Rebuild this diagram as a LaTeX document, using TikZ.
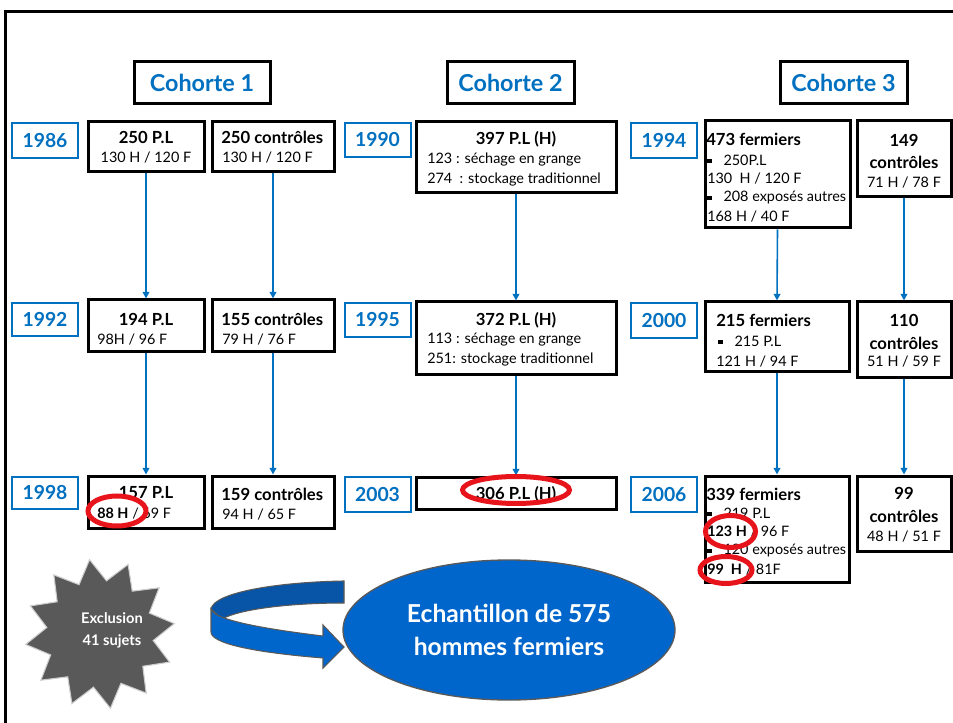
\documentclass[tikz,border=0pt]{standalone}
\usepackage{fontspec}
\setmainfont{Lato}
\usetikzlibrary{arrows.meta,shapes.geometric}
\definecolor{blueA}{RGB}{0,112,192}
\definecolor{blueB}{RGB}{0,102,204}
\definecolor{blueC}{RGB}{8,84,166}
\definecolor{redc}{RGB}{232,20,27}
\definecolor{starg}{RGB}{89,89,89}
\newcommand\HdF{\fontsize{12.5}{14}\selectfont\bfseries}
\newcommand\RgF{\fontsize{10.8}{12}\selectfont}
\newcommand\Bul{\rule[1.5pt]{3.2pt}{3.2pt}\hspace{9pt}}
\newcommand\BoxAt[5]{\node[box, minimum width=#4*0.75pt, minimum height=#5*0.75pt] (#1) at (#2,#3) {};}
\newcommand\YearAt[4]{\node[yr, minimum width=66*0.75pt, minimum height=#4*0.75pt] (#1) at (#2,#3) {#1};}
\begin{document}
\begin{tikzpicture}[x=0.75pt,y=-0.75pt,
  box/.style={draw=black, line width=2.25pt, inner sep=0pt, fill=white},
  yr/.style={draw=blueA, line width=1.5pt, text=blueA, font=\fontsize{14.5}{16}\selectfont\bfseries, inner sep=0pt},
  coh/.style={draw=black, line width=2.25pt, text=blueA, font=\fontsize{17.5}{20}\selectfont\bfseries, inner sep=0pt},
  hd/.style={font=\HdF, inner sep=0pt},
  rg/.style={font=\RgF, inner sep=0pt},
  flow/.style={draw=blueA, line width=1.2pt, -{Triangle[length=5pt,width=5pt]}},
  redring/.style={draw=redc, line width=3.75pt, ellipse, inner sep=0pt}]
\useasboundingbox (0,0) rectangle (953,723);
\fill[white] (0,0) rectangle (953,723);
\draw[line width=2.25pt] (5,725) -- (5,12) -- (955,12);

% cohort headers
\node[coh, minimum width=136*0.75pt, minimum height=42*0.75pt] (coh1) at (202,83) {Cohorte 1};
\node[coh, minimum width=127*0.75pt, minimum height=42*0.75pt] (coh2) at (510.5,83) {Cohorte 2};
\node[coh, minimum width=127*0.75pt, minimum height=42*0.75pt] (coh3) at (843.5,83) {Cohorte 3};

% years
\YearAt{1986}{45}{140.5}{35}
\YearAt{1992}{45}{319.5}{33}
\YearAt{1998}{45}{493}{32}
\YearAt{1990}{377.5}{140}{34}
\YearAt{1995}{377.5}{320}{34}
\YearAt{2003}{377.5}{494.5}{35}
\YearAt{1994}{664}{140.5}{35}
\YearAt{2000}{664}{320.5}{35}
\YearAt{2006}{664}{494.5}{35}

% boxes
\BoxAt{a1}{146}{147}{116}{50}
\BoxAt{a2}{146}{326}{116}{52}
\BoxAt{a3}{146}{502}{116}{52}
\BoxAt{c1}{273}{147}{122}{50}
\BoxAt{c2}{273}{326}{122}{52}
\BoxAt{c3}{273}{502}{122}{52}
\BoxAt{p1}{516}{157.5}{200}{71}
\BoxAt{p2}{516}{338.5}{200}{73}
\BoxAt{p3}{516}{493}{200}{32}
\BoxAt{f1}{777.5}{174.5}{145}{107}
\BoxAt{f2}{777}{337}{144}{70}
\BoxAt{f3}{777}{529}{144}{106}
\BoxAt{k1}{904}{159}{94}{76}
\BoxAt{k2}{904}{340}{94}{76}
\BoxAt{k3}{904}{513.5}{94}{75}

% texts row 1
\node[hd] (a1h) at (146,137) {250 P.L};
\node[rg] (a1r) at (146,158) {130 H / 120 F};
\node[hd, anchor=west] (c1h) at (221,137) {250 contrôles};
\node[rg, anchor=west] (c1r) at (222,158) {130 H / 120 F};
\node[hd] (p1h) at (516,139) {397 P.L (H)};
\node[rg, anchor=west] (p1r1) at (427,160) {123 : séchage en grange};
\node[rg, anchor=west] (p1r2) at (427,180) {274\ \ : stockage traditionnel};
\node[hd, anchor=west] (f1h) at (706,139) {473 fermiers};
\node[rg, anchor=west] (f1r1) at (707,160) {\Bul 250P.L};
\node[rg, anchor=west] (f1r2) at (707,179) {130\ \ H / 120 F};
\node[rg, anchor=west] (f1r3) at (707,198) {\Bul 208 exposés autres};
\node[rg, anchor=west] (f1r4) at (707,217) {168 H / 40 F};
\node[hd] (k1h1) at (904,140) {149};
\node[hd] (k1h2) at (904,162) {contrôles};
\node[rg] (k1r) at (904,183) {71 H / 78 F};

% texts row 2
\node[hd] (a2h) at (146,319) {194 P.L};
\node[rg, anchor=west] (a2r) at (97,340) {98H / 96 F};
\node[hd, anchor=west] (c2h) at (221,319) {155 contrôles};
\node[rg, anchor=west] (c2r) at (222,340) {79 H / 76 F};
\node[hd] (p2h) at (516,320) {372 P.L (H)};
\node[rg, anchor=west] (p2r1) at (427,340) {113 : séchage en grange};
\node[rg, anchor=west] (p2r2) at (427,360) {251: stockage traditionnel};
\node[hd, anchor=west] (f2h) at (716,320) {215 fermiers};
\node[rg, anchor=west] (f2r1) at (718,341) {\Bul 215 P.L};
\node[rg, anchor=west] (f2r2) at (716,362) {121 H / 94 F};
\node[hd] (k2h1) at (904,320) {110};
\node[hd] (k2h2) at (904,343) {contrôles};
\node[rg] (k2r) at (904,362) {51 H / 59 F};

% texts row 3
\node[hd] (a3h) at (146,493) {157 P.L};
\node[rg, anchor=west] (a3r) at (97,514) {\textbf{88 H} / 69 F};
\node[hd, anchor=west] (c3h) at (221,494) {159 contrôles};
\node[rg, anchor=west] (c3r) at (222,515) {94 H / 65 F};
\node[hd] (p3h) at (516,494) {306 P.L (H)};
\node[hd, anchor=west] (f3h) at (706,494) {339 fermiers};
\node[rg, anchor=west] (f3r1) at (707,513) {\Bul 219 P.L};
\node[rg, anchor=west] (f3r2) at (707,532) {\textbf{123 H} / 96 F};
\node[rg, anchor=west] (f3r3) at (707,551) {\Bul 120 exposés autres};
\node[rg, anchor=west] (f3r4) at (707,570) {\textbf{99\ \ H} / 81F};
\node[hd] (k3h1) at (904,493) {99};
\node[hd] (k3h2) at (904,516) {contrôles};
\node[rg] (k3r) at (904,537) {48 H / 51 F};

% flow arrows
\draw[flow] (a1.south) -- (a2.north);
\draw[flow] (a2.south) -- (a3.north);
\draw[flow] (c1.south) -- (c2.north);
\draw[flow] (c2.south) -- (c3.north);
\draw[flow] (p1.south) -- (p2.north);
\draw[flow] (p2.south) -- (p3.north);
\draw[flow] (f1.south) -- (f2.north);
\draw[flow] (f2.south) -- (f3.north);
\draw[flow] (k1.south) -- (k2.north);
\draw[flow] (k2.south) -- (k3.north);

% red highlights
\node[redring, minimum width=58*0.75pt, minimum height=30*0.75pt] (r1) at (117,511) {};
\node[redring, minimum width=107*0.75pt, minimum height=27*0.75pt] (r2) at (516,490) {};
\node[redring, minimum width=50*0.75pt, minimum height=32*0.75pt] (r3) at (730.5,531.5) {};
\node[redring, minimum width=52*0.75pt, minimum height=27*0.75pt] (r4) at (726,570) {};

% exclusion star
\node[star, star points=12, star point ratio=1.4, minimum size=150*0.75pt, fill=starg, draw=gray!40, line width=0.8pt, inner sep=0pt, rotate=8] (star) at (100,634) {};
\node[text=white, align=center, font=\fontsize{11}{16.5}\selectfont\bfseries, inner sep=0pt] (excl) at (112,630) {Exclusion\\41 sujets};

% curved ribbon arrow
\filldraw[fill=blueC, draw=gray!70!black, line width=0.8pt]
  (344,581) .. controls (280,582) and (214,592) .. (211,609)
  -- (222,619) .. controls (240,609) and (290,603) .. (344,603) -- cycle;
\filldraw[fill=blueB, draw=gray!70!black, line width=0.8pt]
  (211,609) .. controls (213,617) and (240,626) .. (323,636)
  -- (323,625) -- (344,647) -- (323,668) -- (323,658)
  .. controls (250,652) and (211,643) .. (211,632) -- cycle;

% sample ellipse
\node[ellipse, fill=blueB, draw=gray!70!black, line width=1pt, minimum width=332*0.75pt, minimum height=140*0.75pt, text=white, align=center, font=\fontsize{18.5}{24.75}\selectfont\bfseries, inner sep=0pt] (ech) at (509,630) {Echantillon de 575\\hommes fermiers};
\end{tikzpicture}
\end{document}
